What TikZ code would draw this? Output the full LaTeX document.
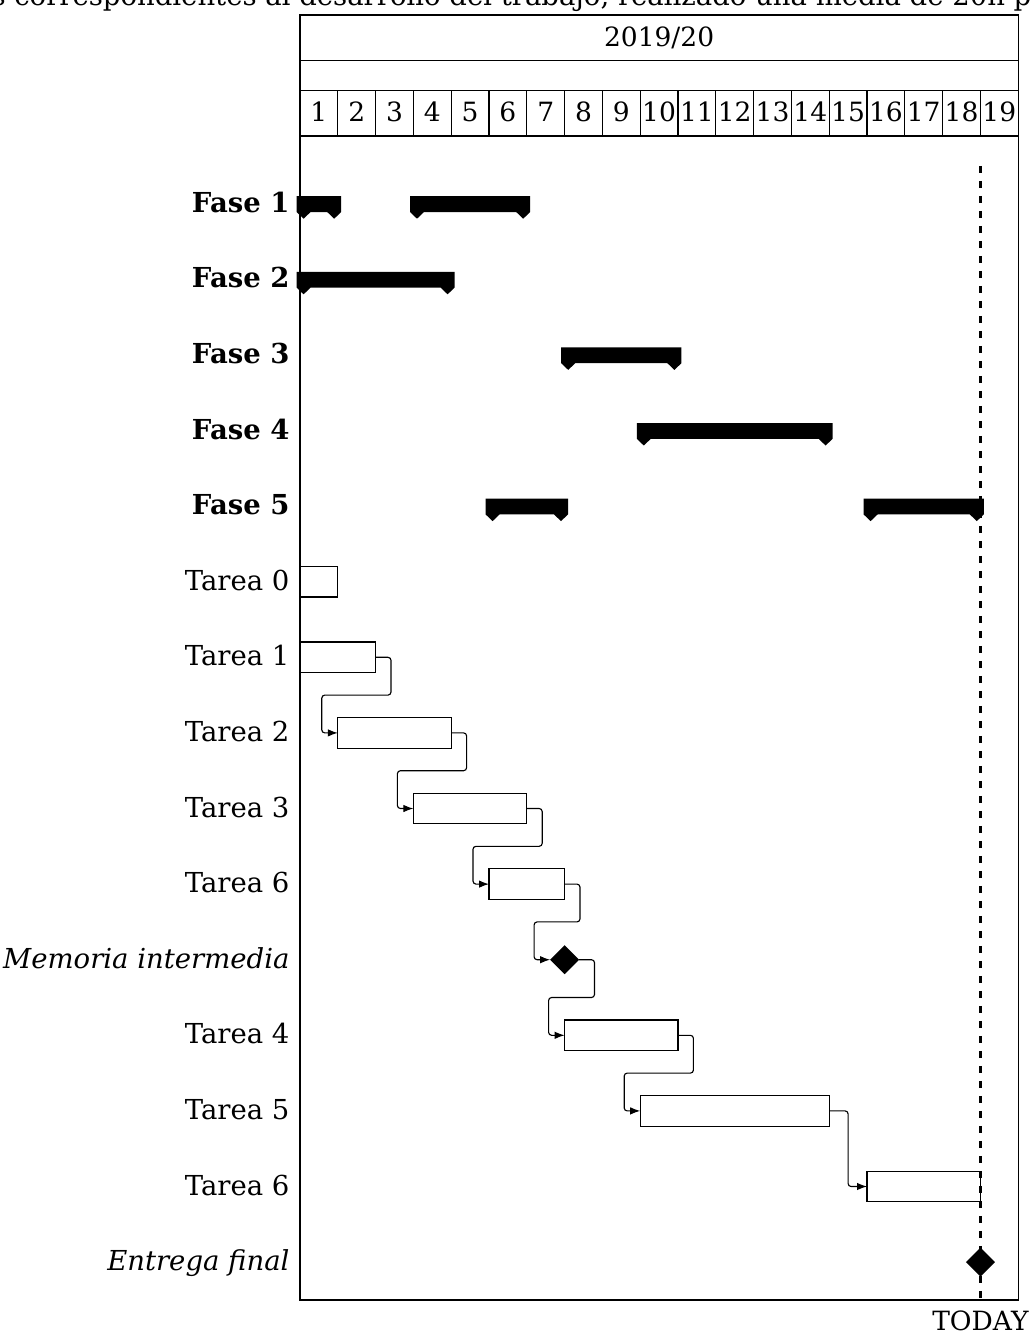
\documentclass[tikz,border=0pt]{standalone}
\usepackage{fontspec}
\setmainfont{DejaVu Serif}
\usetikzlibrary{shapes.geometric,arrows.meta,calc}
\tikzset{
  frameline/.style={line width=0.5pt},
  taskbox/.style={draw, line width=0.5pt, minimum height=12.24pt, inner sep=0pt, outer sep=0pt},
  msdiamond/.style={diamond, fill=black, draw=none, minimum width=11.6pt, minimum height=11.6pt, inner sep=0pt, outer sep=0pt},
  lbl/.style={anchor=base east, inner sep=0pt, font=\fontsize{11}{13}\selectfont},
  hdr/.style={anchor=base, inner sep=0pt, font=\fontsize{10.6}{13}\selectfont},
  linkline/.style={line width=0.45pt, rounded corners=1.2pt, -{Latex[length=4pt,width=3pt]}},
  todayrule/.style={line width=1pt, dashed},
  grpbar/.style={fill=black, draw=none},
}
\newcommand\ganttTask[4]{%
  \pgfmathsetmacro\gtw{(#3-#2+1)*15.12}%
  \pgfmathsetmacro\gtx{300+(#2+#3-1)*18.9}%
  \node[taskbox, minimum width=\gtw pt] (#1) at (\gtx,#4) {};}
\newcommand\ganttBar[3]{%
  \pgfmathsetmacro\gbs{300+(#1-1)*37.8}%
  \pgfmathsetmacro\gbe{300+#2*37.8}%
  \fill[grpbar] (\gbs-3.4,#3-7.5) -- (\gbe+3.4,#3-7.5) -- (\gbe+3.4,#3+8.3)
    -- (\gbe-3.6,#3+15) -- (\gbe-10.6,#3+8.3) -- (\gbs+10.6,#3+8.3)
    -- (\gbs+3.6,#3+15) -- (\gbs-3.4,#3+8.3) -- cycle;}
\newcommand\ganttLink[2]{%
  \draw[linkline] (#1.east) -- ++(15.4,0) -- ++(0,37.8) -| ($(#2.west)+(-16,0)$) -- (#2.west);}
\begin{document}
\begin{tikzpicture}[x=0.4pt,y=-0.4pt]
\useasboundingbox (0,0) rectangle (1035,1334);
% cut text line at the top
\node[anchor=base west, inner sep=0pt, font=\fontsize{11}{13}\selectfont] (toptext) at (-9,5.5)
  {s correspondientes al desarrollo del trabajo, realizado una media de 20h p};
% frame and header
\draw[frameline] (300,15) rectangle (1018.2,1300);
\draw[frameline] (300,60.7) -- (1018.2,60.7);
\draw[frameline] (300,90.7) -- (1018.2,90.7);
\draw[frameline] (300,136) -- (1018.2,136);
\foreach \c in {1,...,18} \draw[frameline] ({300+\c*37.8},90.7) -- ({300+\c*37.8},136);
\node[hdr] (title) at (659.1,46) {2019/20};
\foreach \c in {1,...,19} \node[hdr] (n\c) at ({300+(\c-0.5)*37.8},121.5) {\c};
% labels
\node[lbl] (l1) at (290,212.2) {\textbf{Fase 1}};
\node[lbl] (l2) at (290,287.8) {\textbf{Fase 2}};
\node[lbl] (l3) at (290,363.4) {\textbf{Fase 3}};
\node[lbl] (l4) at (290,439.0) {\textbf{Fase 4}};
\node[lbl] (l5) at (290,514.6) {\textbf{Fase 5}};
\node[lbl] (l6) at (290,590.2) {Tarea 0};
\node[lbl] (l7) at (290,665.8) {Tarea 1};
\node[lbl] (l8) at (290,741.4) {Tarea 2};
\node[lbl] (l9) at (290,817.0) {Tarea 3};
\node[lbl] (l10) at (290,892.6) {Tarea 6};
\node[lbl] (l11) at (290,968.2) {\textit{Memoria intermedia}};
\node[lbl] (l12) at (290,1043.8) {Tarea 4};
\node[lbl] (l13) at (290,1119.4) {Tarea 5};
\node[lbl] (l14) at (290,1195.0) {Tarea 6};
\node[lbl] (l15) at (290,1270.6) {\textit{Entrega final}};
% group bars
\ganttBar{1}{1}{203.7}
\ganttBar{4}{6}{203.7}
\ganttBar{1}{4}{279.3}
\ganttBar{8}{10}{354.9}
\ganttBar{10}{14}{430.5}
\ganttBar{6}{7}{506.1}
\ganttBar{16}{18}{506.1}
% tasks
\ganttTask{t0}{1}{1}{581.7}
\ganttTask{t1}{1}{2}{657.3}
\ganttTask{t2}{2}{4}{732.9}
\ganttTask{t3}{4}{6}{808.5}
\ganttTask{t6a}{6}{7}{884.1}
\node[msdiamond] (m1) at (564.6,959.7) {};
\ganttTask{t4}{8}{10}{1035.3}
\ganttTask{t5}{10}{14}{1110.9}
\ganttTask{t6b}{16}{18}{1186.5}
\node[msdiamond] (m2) at (980.4,1262.1) {};
% links
\ganttLink{t1}{t2}
\ganttLink{t2}{t3}
\ganttLink{t3}{t6a}
\ganttLink{t6a}{m1}
\ganttLink{m1}{t4}
\ganttLink{t4}{t5}
\coordinate (k56) at ($(t5.east)!.5!(t6b.west)$);
\draw[linkline] (t5.east) -| (k56 |- t6b.west) -- (t6b.west);
% today rule
\coordinate (todaytop) at (980.4,165.9);
\coordinate (todaybot) at (980.4,1300);
\draw[todayrule] (todaytop) -- (todaybot);
\node[hdr] (todaylbl) at (980.4,1330) {TODAY};
\end{tikzpicture}
\end{document}
